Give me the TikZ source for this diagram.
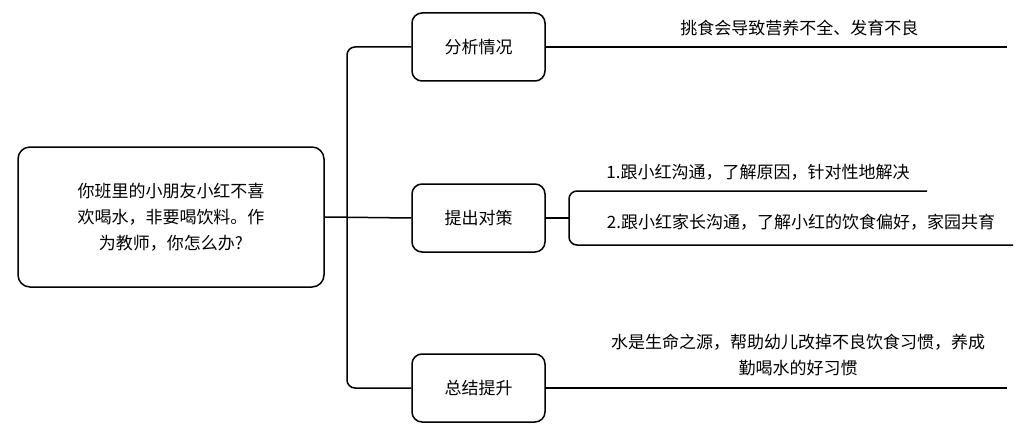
\documentclass[tikz,border=0pt]{standalone}
\usepackage{fontspec}
\setmainfont{Noto Sans CJK SC}
\usetikzlibrary{positioning}
\tikzset{
  box/.style={draw,line width=1.5pt,rounded corners=10pt,minimum width=133pt,minimum height=68pt,inner sep=2pt},
  leaf/.style={inner sep=0pt,align=center,font=\fontsize{17}{26}\selectfont},
  branch/.style={line width=1.5pt}
}
\begin{document}
\begin{tikzpicture}[x=1pt,y=-1pt,font=\fontsize{17}{26}\selectfont]
\useasboundingbox (0,0) rectangle (1026,436);
\node[draw,line width=1.5pt,rounded corners=12pt,minimum width=306pt,minimum height=140pt,align=center] (root) at (171,217) {你班里的小朋友小红不喜\\欢喝水，非要喝饮料。作\\为教师，你怎么办?};
\node[box] (fenxi) at (478.5,47) {分析情况};
\node[box] (tichu) at (478.5,218) {提出对策};
\node[box] (zongjie) at (478.5,388) {总结提升};
\coordinate (jn) at (347,218);
\coordinate (jn2) at (569,218);
\coordinate (e1) at (1007,47);
\coordinate (e2) at (927,191);
\coordinate (e3) at (1013,245);
\coordinate (e4) at (1007,388);
\draw[branch] (root.east) -- (tichu.west);
\draw[branch,rounded corners=8pt] (fenxi.west) -| (jn) |- (zongjie.west);
\draw[branch] (fenxi.east) -- (e1) node[leaf,pos=0.55,above=10pt] (t1) {挑食会导致营养不全、发育不良};
\draw[branch] (tichu.east) -- (jn2);
\draw[branch,rounded corners=8pt] (e2) -| (jn2) |- (e3);
\node[leaf] (s1) at (758,172) {1.跟小红沟通，了解原因，针对性地解决};
\node[leaf] (s2) at (801,222) {2.跟小红家长沟通，了解小红的饮食偏好，家园共育};
\draw[branch] (zongjie.east) -- (e4);
\node[leaf] (z1) at (798,355) {水是生命之源，帮助幼儿改掉不良饮食习惯，养成\\勤喝水的好习惯};
\end{tikzpicture}
\end{document}
